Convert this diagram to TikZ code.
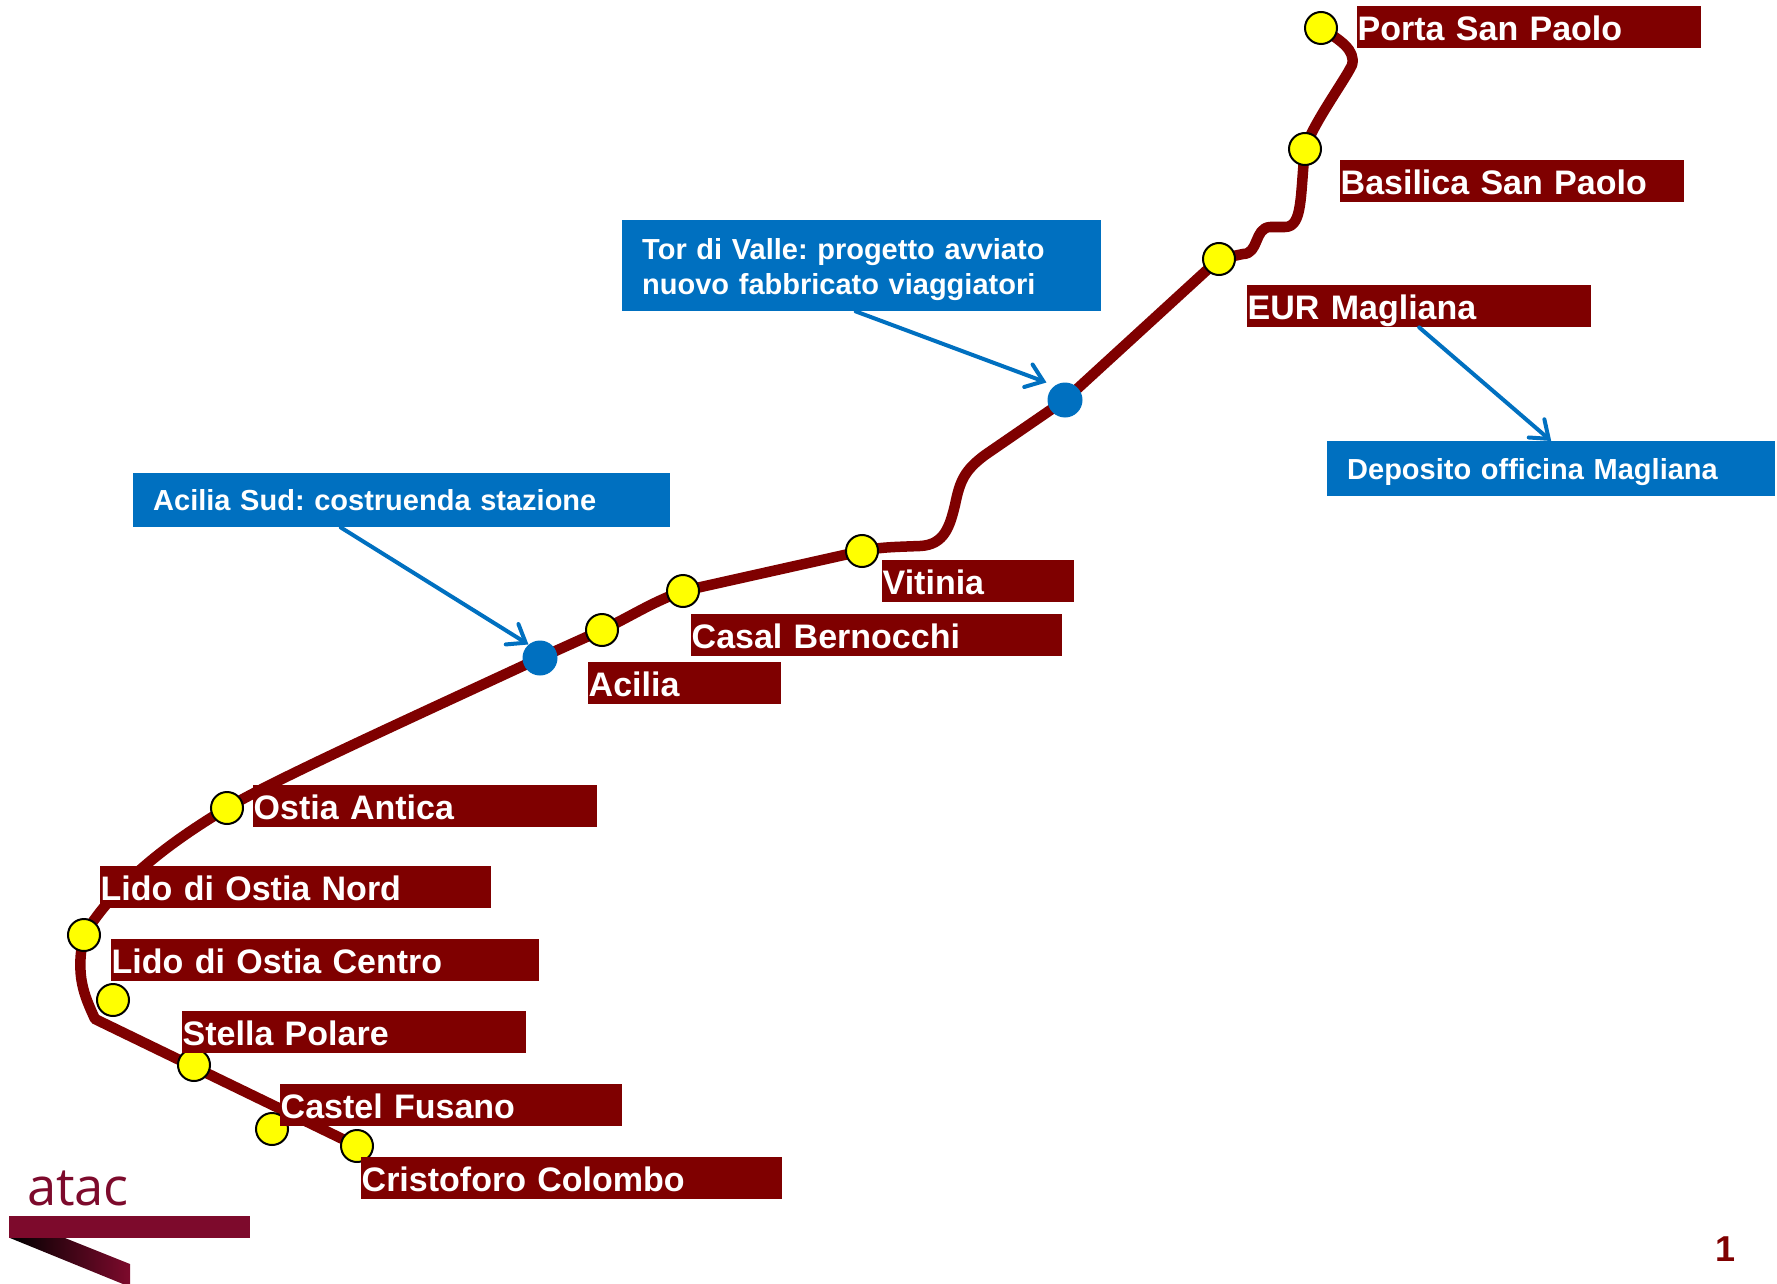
\documentclass[tikz,border=0pt]{standalone}
\usepackage{fontspec}
\setmainfont{Liberation Sans}
\newfontfamily\logofont{Open Sans}
\usetikzlibrary{arrows.meta,backgrounds}
\definecolor{trackred}{HTML}{7F0000}
\definecolor{noteblue}{HTML}{0070C0}
\definecolor{logored}{HTML}{7D0A2C}
\definecolor{dotyellow}{HTML}{FFFF00}
\tikzset{
    stationdot/.style={circle,draw=black,line width=2pt,fill=dotyellow,minimum size=32pt,inner sep=0pt},
    plandot/.style={circle,fill=noteblue,minimum size=35pt,inner sep=0pt},
    stationlabel/.style={anchor=north west,fill=trackred,text=white,inner xsep=0.5pt,inner ysep=0pt,
        align=left,font=\fontsize{34pt}{40pt}\selectfont\bfseries,text height=34pt,text depth=8pt},
    notebox/.style={anchor=north west,fill=noteblue,text=white,inner xsep=20pt,inner ysep=0pt,align=left,
        font=\fontsize{29pt}{35pt}\selectfont\bfseries},
    noteline/.style={draw=noteblue,line width=4pt,line cap=round,-{Straight Barb[length=16pt,width=24pt,line cap=round]}},
    trackline/.style={draw=trackred,line width=10.5pt,line join=round}
}
\begin{document}
\frenchspacing
\begin{tikzpicture}[x=1pt,y=-1pt]
    \useasboundingbox (0,0) rectangle (1777,1284);
    \foreach \id/\cx/\cy in {porta/1321/28,basilica/1305/149,eur/1219/259,vitinia/862/551,casal/683/591,
        acilia/602/630,ostia/227/808,nord/84/935,centro/113/1000,stella/194/1065,castel/272/1129,colombo/357/1146} {
        \node[stationdot] (\id) at (\cx,\cy) {};
    }
    \node[plandot] (torvalle) at (1065,400) {};
    \node[plandot] (aciliasud) at (540,658) {};
    \coordinate (bendA) at (95,1019);
    \coordinate (bendB) at (920,546);
    \coordinate (bendC) at (955,505);
    \coordinate (bendD) at (985,455);
    \coordinate (bendE) at (1243,254);
    \coordinate (bendF) at (1270,227);
    \coordinate (bendG) at (1285,227);
    \coordinate (bendH) at (1352,65);
    \begin{pgfonlayer}{background}
        \draw[trackline] (colombo.center) -- (bendA)
            .. controls (84,995) and (75,975) .. (nord.center)
            .. controls (115,885) and (165,845) .. (ostia.center)
            .. controls (270,782) and (400,723) .. (aciliasud.center)
            -- (acilia.center)
            .. controls (630,617) and (650,603) .. (casal.center)
            -- (vitinia.center)
            .. controls (880,547) and (895,547) .. (bendB)
            .. controls (945,545) and (950,525) .. (bendC)
            .. controls (960,480) and (965,470) .. (bendD)
            -- (torvalle.center) -- (eur.center) -- (bendE)
            .. controls (1259,254) and (1254,228) .. (bendF) -- (bendG)
            .. controls (1303,227) and (1300,195) .. (basilica.center)
            .. controls (1312,125) and (1345,80) .. (bendH)
            .. controls (1356,50) and (1340,40) .. (porta.center);
    \end{pgfonlayer}
    \foreach \id/\lx/\ly/\lw/\txt in {portalabel/1357/6/344/Porta San Paolo,basilicalabel/1340/160/344/Basilica San Paolo,
        eurlabel/1247/285/344/EUR Magliana,vitinialabel/882/560/192/Vitinia,casallabel/691/614/371/Casal Bernocchi,
        acilialabel/588/662/193/Acilia,ostialabel/253/785/344/Ostia Antica,nordlabel/100/866/391/Lido di Ostia Nord,
        centrolabel/111/939/428/Lido di Ostia Centro,stellalabel/182/1011/344/Stella Polare,
        castellabel/280/1084/342/Castel Fusano,colombolabel/361/1157/421/Cristoforo Colombo} {
        \node[stationlabel,text width=\lw pt-1pt] (\id) at (\lx,\ly) {\txt};
    }
    \node[notebox,text width=439pt,minimum height=91pt] (torbox) at (622,220) {\rule{0pt}{29pt}Tor di Valle: progetto avviato\\nuovo fabbricato viaggiatori};
    \node[notebox,text width=497pt,minimum height=54pt,text height=25pt,text depth=4pt] (suedbox) at (133,473) {Acilia Sud: costruenda stazione};
    \node[notebox,text width=408pt,minimum height=55pt,text height=25pt,text depth=4pt] (depotbox) at (1327,441) {Deposito officina Magliana};
    \draw[noteline] ([xshift=-6pt]torbox.south) -- ([shift={(-6pt,5pt)}]torvalle.north west);
    \draw[noteline] ([xshift=-61pt]suedbox.south) -- ([shift={(1pt,1pt)}]aciliasud.north west);
    \draw[noteline] (eurlabel.south) -- (depotbox.north);
    \node[font=\logofont\fontsize{52.5pt}{60pt}\selectfont,text=logored,inner sep=0pt] (atacword) at (78,1188) {atac};
    \fill[logored] (9,1216) rectangle (250,1238);
    \shade[left color=black,right color=logored] (10,1238) -- (65,1238) -- (130,1264) -- (130,1284) -- (123,1284) -- cycle;
    \node[font=\fontsize{36pt}{40pt}\selectfont\bfseries,text=trackred,inner sep=0pt] (pagenum) at (1725,1249.5) {1};
\end{tikzpicture}
\end{document}
